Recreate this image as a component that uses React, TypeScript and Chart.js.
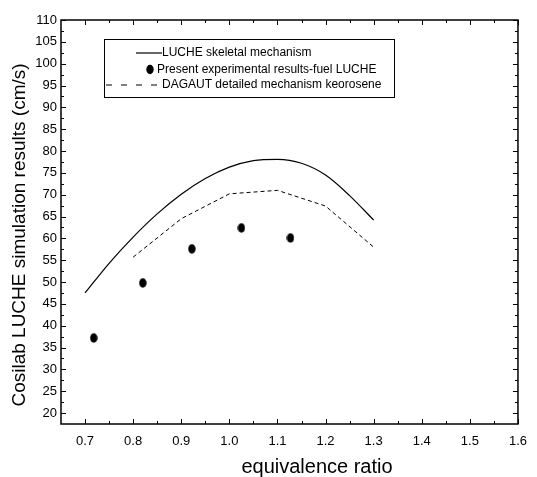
import React, { useEffect, useRef } from "react";
import { Chart, registerables } from "chart.js";

Chart.register(...registerables);

// ---- data ----
const xTickValues = [0.7, 0.8, 0.9, 1.0, 1.1, 1.2, 1.3, 1.4, 1.5, 1.6];
const yTickValues = [20, 25, 30, 35, 40, 45, 50, 55, 60, 65, 70, 75, 80, 85, 90, 95, 100, 105, 110];

const skeletalX = [0.7, 0.75, 0.8, 0.85, 0.9, 0.95, 1.0, 1.05, 1.1, 1.15, 1.2, 1.25, 1.3];
const skeletalY = [47.5, 54.3, 60.3, 65.6, 70.1, 73.7, 76.3, 77.8, 78.1, 77.2, 74.5, 69.8, 64.2];

const experimentX = [0.718, 0.82, 0.922, 1.025, 1.127];
const experimentY = [37.2, 49.8, 57.6, 62.4, 60.1];

const dagautX = [0.8, 0.9, 1.0, 1.1, 1.2, 1.3];
const dagautY = [55.7, 64.5, 70.2, 71.0, 67.4, 58.0];

const seriesLabels = [
  "LUCHE skeletal mechanism",
  "Present experimental results-fuel LUCHE",
  "DAGAUT detailed mechanism keorosene",
];
const xTitle = "equivalence ratio";
const yTitle = "Cosilab LUCHE simulation results (cm/s)";

const X_MIN = 0.65;
const X_MAX = 1.6;
const Y_MIN = 17.5;
const Y_MAX = 110;

const SANS = "'Liberation Sans', Arial, sans-serif";

function zip(xs: number[], ys: number[]) {
  return xs.map((x, i) => ({ x, y: ys[i] }));
}

function makeDot(): HTMLCanvasElement {
  const c = document.createElement("canvas");
  c.width = 8;
  c.height = 10;
  const g = c.getContext("2d")!;
  g.fillStyle = "#000";
  g.beginPath();
  g.ellipse(4, 5, 3.7, 4.7, 0, 0, Math.PI * 2);
  g.fill();
  return c;
}

const decorPlugin = {
  id: "decor",
  afterDraw(chart: any) {
    const ctx = chart.ctx as CanvasRenderingContext2D;
    const { left, right, top, bottom } = chart.chartArea;
    const xs = chart.scales.x;
    const ys = chart.scales.y;
    ctx.save();
    ctx.strokeStyle = "#000";
    ctx.lineWidth = 1.5;
    ctx.strokeRect(left, top, right - left, bottom - top);
    ctx.lineWidth = 1;
    ctx.beginPath();
    xTickValues.forEach((v) => {
      const px = Math.round(xs.getPixelForValue(v)) + 0.5;
      ctx.moveTo(px, bottom);
      ctx.lineTo(px, bottom - 5);
      ctx.moveTo(px, top);
      ctx.lineTo(px, top + 5);
      const m = v - 0.05;
      if (m > X_MIN + 0.001) {
        const pm = Math.round(xs.getPixelForValue(m)) + 0.5;
        ctx.moveTo(pm, bottom);
        ctx.lineTo(pm, bottom - 3);
        ctx.moveTo(pm, top);
        ctx.lineTo(pm, top + 3);
      }
    });
    yTickValues.forEach((v) => {
      const py = Math.round(ys.getPixelForValue(v)) + 0.5;
      ctx.moveTo(left, py);
      ctx.lineTo(left + 5, py);
      ctx.moveTo(right, py);
      ctx.lineTo(right - 5, py);
      const m = v - 2.5;
      if (m > Y_MIN + 0.001) {
        const pm = Math.round(ys.getPixelForValue(m)) + 0.5;
        ctx.moveTo(left, pm);
        ctx.lineTo(left + 3, pm);
        ctx.moveTo(right, pm);
        ctx.lineTo(right - 3, pm);
      }
    });
    ctx.stroke();

    // axis titles
    ctx.fillStyle = "#000";
    ctx.font = `20px ${SANS}`;
    ctx.textAlign = "center";
    ctx.textBaseline = "middle";
    ctx.fillText(xTitle, 317, 467);
    ctx.save();
    ctx.translate(20, 235);
    ctx.rotate(-Math.PI / 2);
    ctx.font = `19px ${SANS}`;
    ctx.fillText(yTitle, 0, 0);
    ctx.restore();

    // legend
    ctx.lineWidth = 1;
    ctx.strokeRect(104.5, 39.5, 290, 58);
    ctx.font = `12px ${SANS}`;
    ctx.textAlign = "left";
    ctx.textBaseline = "middle";
    const rows = [53, 69.5, 85];
    const labels = chart.data.datasets.map((d: any) => d.label);
    ctx.lineWidth = 1.2;
    ctx.beginPath();
    ctx.moveTo(136, rows[0]);
    ctx.lineTo(162, rows[0]);
    ctx.stroke();
    ctx.fillText(labels[0], 162, rows[0]);
    ctx.beginPath();
    ctx.ellipse(150, rows[1], 3.7, 4.7, 0, 0, Math.PI * 2);
    ctx.fill();
    ctx.fillText(labels[1], 157, rows[1]);
    ctx.lineWidth = 1;
    ctx.setLineDash([6, 9]);
    ctx.beginPath();
    ctx.moveTo(106, rows[2]);
    ctx.lineTo(160, rows[2]);
    ctx.stroke();
    ctx.setLineDash([]);
    ctx.fillText(labels[2], 162, rows[2]);
    ctx.restore();
  },
};

export default function App() {
  const ref = useRef<HTMLCanvasElement | null>(null);
  useEffect(() => {
    if (!ref.current) return;
    const dot = makeDot();
    const chart = new Chart(ref.current, {
      type: "scatter",
      data: {
        datasets: [
          {
            label: seriesLabels[0],
            data: zip(skeletalX, skeletalY),
            showLine: true,
            borderColor: "#000",
            borderWidth: 1.2,
            pointRadius: 0,
            cubicInterpolationMode: "monotone",
          },
          {
            label: seriesLabels[1],
            data: zip(experimentX, experimentY),
            showLine: false,
            pointStyle: dot,
            pointRadius: 5,
            backgroundColor: "#000",
            borderColor: "#000",
          },
          {
            label: seriesLabels[2],
            data: zip(dagautX, dagautY),
            showLine: true,
            borderColor: "#000",
            borderWidth: 1,
            borderDash: [4, 3],
            pointRadius: 0,
            tension: 0,
          },
        ],
      },
      options: {
        animation: false,
        responsive: false,
        devicePixelRatio: 1,
        layout: { padding: { left: 0, right: 11, top: 20, bottom: 0 } },
        plugins: { legend: { display: false }, tooltip: { enabled: false } },
        scales: {
          x: {
            type: "linear",
            min: X_MIN,
            max: X_MAX,
            grid: { display: false, drawTicks: false },
            border: { display: false },
            afterBuildTicks: (s: any) => {
              s.ticks = xTickValues.map((v) => ({ value: v }));
            },
            afterFit: (s: any) => {
              s.height = 53;
            },
            ticks: {
              padding: 10,
              color: "#000",
              font: { family: SANS, size: 13 },
              maxRotation: 0,
              autoSkip: false,
              callback: (v: any) => Number(v).toFixed(1),
            },
          },
          y: {
            type: "linear",
            min: Y_MIN,
            max: Y_MAX,
            grid: { display: false, drawTicks: false },
            border: { display: false },
            afterBuildTicks: (s: any) => {
              s.ticks = yTickValues.map((v) => ({ value: v }));
            },
            afterFit: (s: any) => {
              s.width = 61;
            },
            ticks: {
              padding: 4,
              color: "#000",
              font: { family: SANS, size: 13 },
              autoSkip: false,
              callback: (v: any) => String(v),
            },
          },
        },
      },
      plugins: [decorPlugin],
    });
    return () => chart.destroy();
  }, []);
  return (
    <div style={{ position: "fixed", left: 0, top: 0, width: 537, height: 477, background: "#fff" }}>
      <canvas ref={ref} width={537} height={477} />
    </div>
  );
}
